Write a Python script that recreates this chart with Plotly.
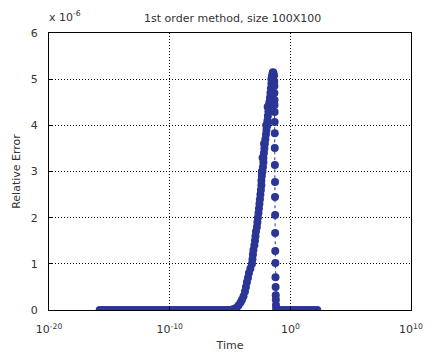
import plotly.graph_objects as go

# log10(time) and relative error (in units of 1e-6), in time order
flat_left_logt = [-15.8, -15.55, -15.3, -15.05, -14.8, -14.55, -14.3, -14.05, -13.8, -13.55,
                  -13.3, -13.05, -12.8, -12.55, -12.3, -12.05, -11.8, -11.55, -11.3, -11.05,
                  -10.8, -10.55, -10.3, -10.05, -9.8, -9.55, -9.3, -9.05, -8.8, -8.55,
                  -8.3, -8.05, -7.8, -7.55, -7.3, -7.05, -6.8, -6.55, -6.3, -6.05,
                  -5.8, -5.55, -5.3, -5.1]
flat_left_err = [0.0] * len(flat_left_logt)

rise_logt = [-4.96, -4.71, -4.46, -4.30, -4.13, -4.01, -3.88, -3.76, -3.68, -3.60,
             -3.51, -3.43, -3.31, -3.18, -3.14, -3.10, -3.06, -2.98, -2.93, -2.89,
             -2.85, -2.77, -2.73, -2.69, -2.64, -2.60, -2.56, -2.52, -2.48, -2.44,
             -2.40, -2.40, -2.36, -2.31, -2.36, -2.27, -2.23, -2.23, -2.30, -2.19,
             -2.15, -2.11, -2.18, -2.07, -2.02, -1.98, -1.90, -2.00, -1.90, -1.86,
             -1.82, -1.78, -1.88, -1.74, -1.69, -1.65, -1.61, -1.57, -1.57, -1.53,
             -1.49, -1.45]
rise_err = [0.00, 0.02, 0.05, 0.10, 0.16, 0.22, 0.30, 0.40, 0.50, 0.60,
            0.70, 0.80, 0.90, 1.00, 1.10, 1.20, 1.30, 1.40, 1.50, 1.60,
            1.70, 1.80, 1.90, 2.00, 2.10, 2.20, 2.30, 2.40, 2.50, 2.60,
            2.70, 2.80, 2.90, 3.00, 3.00, 3.10, 3.20, 3.30, 3.30, 3.40,
            3.50, 3.60, 3.60, 3.70, 3.80, 3.90, 4.00, 4.00, 4.10, 4.20,
            4.30, 4.40, 4.40, 4.50, 4.60, 4.70, 4.80, 4.90, 5.00, 5.05,
            5.10, 5.15]

drop_logt = [-1.40, -1.35, -1.33, -1.32, -1.32, -1.31, -1.31, -1.30, -1.30, -1.29,
             -1.29, -1.28, -1.27, -1.27, -1.26, -1.26, -1.25, -1.24, -1.23, -1.22,
             -1.21, -1.20, -1.19, -1.17, -1.15]
drop_err = [5.14, 5.08, 4.95, 4.85, 4.70, 4.55, 4.44, 4.29, 4.07, 3.83,
            3.51, 3.14, 2.77, 2.45, 2.06, 1.67, 1.28, 1.02, 0.71, 0.50,
            0.32, 0.22, 0.11, 0.04, 0.0]

flat_right_logt = [-1.0, -0.75, -0.5, -0.25, 0.0, 0.25, 0.5, 0.75, 1.0, 1.25,
                   1.5, 1.75, 2.0, 2.23]
flat_right_err = [0.0] * len(flat_right_logt)

x_tick_vals = [1e-20, 1e-10, 1e0, 1e10]
x_tick_text = ["10<sup>-20</sup>", "10<sup>-10</sup>", "10<sup>0</sup>", "10<sup>10</sup>"]
y_tick_vals = [0, 1, 2, 3, 4, 5, 6]

logt = flat_left_logt + rise_logt + drop_logt + flat_right_logt
err = flat_left_err + rise_err + drop_err + flat_right_err
t = [10 ** v for v in logt]

color = "#2b3595"
font = dict(family="'DejaVu Sans', sans-serif", size=11, color="#333333")
tfont = dict(family="'DejaVu Sans', sans-serif", size=11, color="#333333")

fig = go.Figure()
fig.add_trace(go.Scatter(
    x=t, y=err, mode="lines+markers",
    line=dict(color=color, width=1, dash="dot"),
    marker=dict(color=color, size=8),
    showlegend=False,
))

axis_common = dict(
    showline=True, linecolor="black", linewidth=1, mirror=True,
    showgrid=True, gridcolor="black", gridwidth=1, griddash="1px,2px",
    ticks="inside", ticklen=4, tickcolor="black", zeroline=False,
    tickfont=tfont, automargin=False,
)
fig.update_xaxes(type="log", range=[-20, 10], tickvals=x_tick_vals, ticktext=x_tick_text,
                 ticklabelstandoff=9,
                 title=dict(text="Time", font=font, standoff=6), **axis_common)
fig.update_yaxes(range=[0, 6], tickvals=y_tick_vals, ticklabelstandoff=8,
                 title=dict(text="Relative Error", font=font, standoff=7), **axis_common)

fig.update_layout(
    width=439, height=358,
    margin=dict(l=49, r=28, t=33, b=48),
    paper_bgcolor="white", plot_bgcolor="white",
    font=font,
    title=dict(text="1st order method, size 100X100", x=0.53, xanchor="center",
               y=0.95, yanchor="middle", font=font),
    annotations=[dict(text="x 10<sup>-6</sup>", xref="paper", yref="paper",
                      x=-0.005, y=1.025, xanchor="left", yanchor="bottom",
                      showarrow=False, font=font)],
)

fig.write_html("out.html")
